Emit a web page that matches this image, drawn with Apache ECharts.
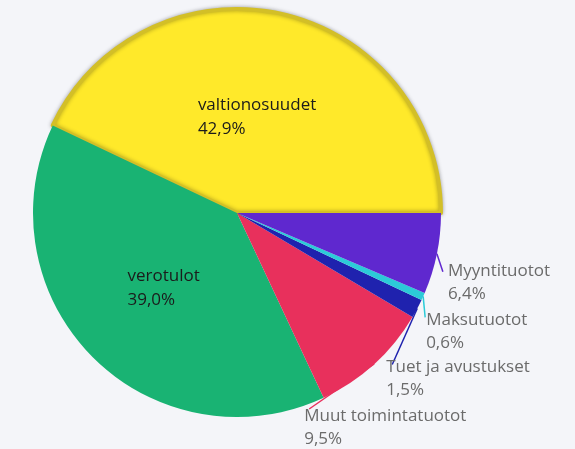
<!DOCTYPE html>
<html>
<head>
<meta charset="utf-8">
<script src="https://cdn.jsdelivr.net/npm/echarts@6/dist/echarts.min.js"></script>
<style>
  html, body { margin: 0; padding: 0; background: #f4f5f9; }
  #chartPieBox { width: 575px; height: 449px; }
</style>
</head>
<body>
<div id="chartPieBox"></div>
<script>
  // tulolajit ja osuudet (%)
  var categories = ['valtionosuudet', 'verotulot', 'Muut toimintatuotot', 'Tuet ja avustukset', 'Maksutuotot', 'Myyntituotot'];
  var shares = [42.9, 39.0, 9.5, 1.5, 0.6, 6.4];
  var colors = ['#ffe92a', '#19b373', '#e8305c', '#1f22ae', '#2ccbd8', '#5f28cf'];
  var insideLabels = [true, true, false, false, false, false];

  // label siirrot: inside -> dx,dy ; outside -> label paikka ja viivan pää reunapisteestä
  var labelShift = [
    { dx: -3, dy: 7 },
    { dx: 1, dy: 1 },
    { lx: -70, ly: 52, ex: -65, ey: 45 },
    { lx: -31, ly: 59, ex: -25, ey: 56 },
    { lx: 3, ly: 24, ex: 2, ey: 21 },
    { lx: 11, ly: 17, ex: 6, ey: 18 }
  ];

  function fmtPct(p) {
    return p.toFixed(1).replace('.', ',') + '%';
  }

  var pieData = categories.map(function (name, i) {
    var item = {
      name: name,
      value: shares[i],
      itemStyle: { color: colors[i] },
      label: insideLabels[i]
        ? { position: 'inside', color: '#1b1b1b', lineHeight: 24 }
        : { position: 'outside', color: '#6b6b6b', lineHeight: 23 },
      labelLine: { show: !insideLabels[i] }
    };
    if (i === 0) {
      item.itemStyle.borderColor = '#d3bf27';
      item.itemStyle.borderWidth = 4;
      item.itemStyle.shadowColor = 'rgba(0,0,0,0.3)';
      item.itemStyle.shadowBlur = 4;
    }
    return item;
  });

  var chartPie = echarts.init(document.getElementById('chartPieBox'));
  var option = {
    backgroundColor: '#f4f5f9',
    animation: false,
    series: [
      {
        type: 'pie',
        center: [237, 213],
        radius: 204,
        startAngle: 0,
        clockwise: false,
        avoidLabelOverlap: false,
        label: {
          fontFamily: 'Open Sans',
          fontSize: 17,
          formatter: function (p) {
            return p.name + '\n' + fmtPct(p.percent);
          }
        },
        labelLine: {
          length: 10,
          length2: 0,
          lineStyle: { width: 1.5 }
        },
        labelLayout: function (params) {
          var s = labelShift[params.dataIndex];
          if (insideLabels[params.dataIndex]) {
            return {
              x: params.labelRect.x + s.dx,
              y: params.labelRect.y + s.dy,
              align: 'left',
              verticalAlign: 'top'
            };
          }
          var pts = params.labelLinePoints;
          if (!pts) return {};
          var p0 = pts[0];
          var end = [p0[0] + s.ex, p0[1] + s.ey];
          return {
            x: p0[0] + s.lx,
            y: p0[1] + s.ly - 11.5,
            align: 'left',
            verticalAlign: 'top',
            labelLinePoints: [p0, end, end]
          };
        },
        emphasis: { disabled: true },
        data: pieData
      }
    ]
  };
  chartPie.setOption(option);
</script>
</body>
</html>
